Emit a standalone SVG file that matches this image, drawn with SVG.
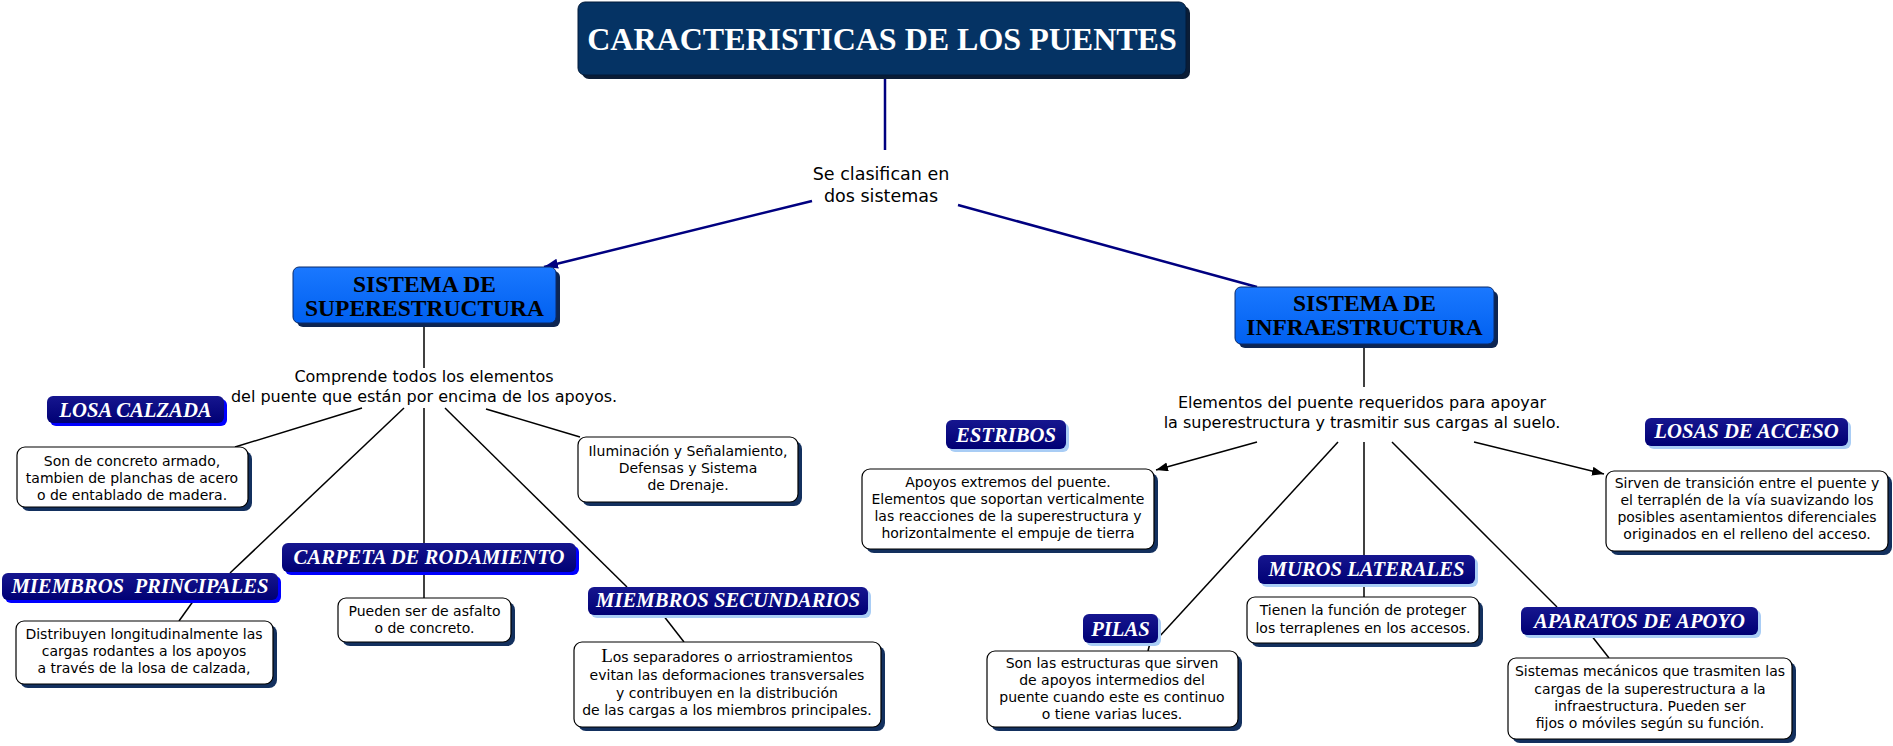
<svg xmlns="http://www.w3.org/2000/svg" width="1893" height="746" viewBox="0 0 1893 746">
<defs>
<linearGradient id="lg" x1="0" y1="0" x2="0" y2="1">
<stop offset="0" stop-color="#16168f"/>
<stop offset="1" stop-color="#000074"/>
</linearGradient>
<linearGradient id="bg" x1="0" y1="0" x2="0" y2="1">
<stop offset="0" stop-color="#1a78ff"/>
<stop offset="1" stop-color="#0060f0"/>
</linearGradient>
<marker id="arN" markerUnits="userSpaceOnUse" markerWidth="16" markerHeight="12" refX="14" refY="5" orient="auto">
<path d="M0,0 L14,5 L0,10 z" fill="#000080"/>
</marker>
<marker id="arB" markerUnits="userSpaceOnUse" markerWidth="14" markerHeight="10" refX="12" refY="4.5" orient="auto">
<path d="M0,0 L12,4.5 L0,9 z" fill="#000"/>
</marker>
</defs>
<style>
text{text-anchor:middle}
.title{font-family:"Liberation Serif","Times New Roman",serif;font-weight:bold;font-size:32px;fill:#fff}
.sys{font-family:"Liberation Serif","Times New Roman",serif;font-weight:bold;font-size:23.5px;fill:#000}
.lbl{font-family:"Liberation Serif","Times New Roman",serif;font-weight:bold;font-style:italic;font-size:20.7px;fill:#fff}
.desc{font-family:"DejaVu Sans",Verdana,sans-serif;font-size:14px;fill:#000}
.mid{font-family:"DejaVu Sans",Verdana,sans-serif;font-size:16px;fill:#000}
.big{font-size:17.5px}
.box{fill:#fff;stroke:#000;stroke-width:1.2}
.boxsh{fill:#13305e}
.lab{fill:url(#lg)}
.shA{fill:#0000ff}
.shB{fill:#a9cdf5}
.sysbox{fill:url(#bg);stroke:#0a2a6a;stroke-width:1}
.syssh{fill:#0d2552}
.conn{stroke:#000;stroke-width:1.5;fill:none}
.nav{stroke:#000080;stroke-width:2.5;fill:none}
</style>

<g id="connectors">
<line class="nav" x1="885" y1="77" x2="885" y2="150"/>
<line class="nav" x1="812" y1="201" x2="544" y2="267" marker-end="url(#arN)"/>
<line class="nav" x1="958" y1="205" x2="1257" y2="287"/>
<line class="conn" x1="424" y1="323" x2="424" y2="368"/>
<line class="conn" x1="362" y1="408" x2="235" y2="447"/>
<line class="conn" x1="404" y1="408" x2="230" y2="573"/>
<line class="conn" x1="424" y1="408" x2="424" y2="543"/>
<line class="conn" x1="445" y1="408" x2="627" y2="587"/>
<line class="conn" x1="486" y1="409" x2="580" y2="437"/>
<line class="conn" x1="194" y1="600" x2="179" y2="621"/>
<line class="conn" x1="424" y1="572" x2="424" y2="598"/>
<line class="conn" x1="663" y1="615" x2="684" y2="642"/>
<line class="conn" x1="1364" y1="344" x2="1364" y2="387"/>
<line class="conn" x1="1257" y1="442" x2="1156" y2="470" marker-end="url(#arB)"/>
<line class="conn" x1="1338" y1="442" x2="1159" y2="637"/>
<line class="conn" x1="1364" y1="442" x2="1364" y2="555"/>
<line class="conn" x1="1392" y1="442" x2="1557" y2="607"/>
<line class="conn" x1="1474" y1="442" x2="1604" y2="474" marker-end="url(#arB)"/>
<line class="conn" x1="1364" y1="584" x2="1364" y2="597"/>
<line class="conn" x1="1150" y1="643" x2="1148" y2="651"/>
<line class="conn" x1="1591" y1="635" x2="1609" y2="658"/>
</g>

<g id="n-title">
<rect x="582" y="6" width="608" height="73" rx="7" fill="#0b1d36"/>
<rect x="578" y="2" width="608" height="73" rx="7" fill="#053364" stroke="#021a38" stroke-width="1"/>
<text class="title" x="882" y="50">CARACTERISTICAS DE LOS PUENTES</text>
</g>

<g id="n-clasifican">
<text class="mid big" x="881" y="180">Se clasifican en</text>
<text class="mid big" x="881" y="202">dos sistemas</text>
</g>

<g id="n-super">
<rect class="syssh" x="297" y="271" width="263" height="56" rx="6"/>
<rect class="sysbox" x="293" y="267" width="263" height="56" rx="6"/>
<text class="sys" x="424.5" y="291.5">SISTEMA DE</text>
<text class="sys" x="424.5" y="315.5">SUPERESTRUCTURA</text>
</g>

<g id="n-infra">
<rect class="syssh" x="1239" y="291" width="259" height="57" rx="6"/>
<rect class="sysbox" x="1235" y="287" width="259" height="57" rx="6"/>
<text class="sys" x="1364.5" y="310.5">SISTEMA DE</text>
<text class="sys" x="1364.5" y="334.5">INFRAESTRUCTURA</text>
</g>

<g id="n-comprende">
<text class="mid" x="424" y="382">Comprende todos los elementos</text>
<text class="mid" x="424" y="402">del puente que están por encima de los apoyos.</text>
</g>

<g id="n-elementos">
<text class="mid" x="1362" y="408">Elementos del puente requeridos para apoyar</text>
<text class="mid" x="1362" y="428">la superestructura y trasmitir sus cargas al suelo.</text>
</g>

<g id="n-losa-calzada">
<rect class="shA" x="50" y="399" width="177" height="27" rx="6"/>
<rect class="lab" x="47" y="396" width="177" height="27" rx="6"/>
<text class="lbl" x="135.5" y="417">LOSA CALZADA</text>
</g>

<g id="n-losa-desc">
<rect class="boxsh" x="21" y="451" width="231" height="60" rx="8"/>
<rect class="box" x="17" y="447" width="231" height="60" rx="8"/>
<text class="desc" x="132" y="466">Son de concreto armado,</text>
<text class="desc" x="132" y="483">tambien de planchas de acero</text>
<text class="desc" x="132" y="500">o de entablado de madera.</text>
</g>

<g id="n-iluminacion">
<rect class="boxsh" x="582" y="441" width="220" height="65" rx="8"/>
<rect class="box" x="578" y="437" width="220" height="65" rx="8"/>
<text class="desc" x="688" y="456">Iluminación y Señalamiento,</text>
<text class="desc" x="688" y="473">Defensas y Sistema</text>
<text class="desc" x="688" y="490">de Drenaje.</text>
</g>

<g id="n-miembros-principales">
<rect class="shA" x="5" y="576" width="276" height="27" rx="6"/>
<rect class="lab" x="2" y="573" width="276" height="27" rx="6"/>
<text class="lbl" x="140" y="593" xml:space="preserve">MIEMBROS  PRINCIPALES</text>
</g>

<g id="n-mp-desc">
<rect class="boxsh" x="20" y="625" width="257" height="63" rx="8"/>
<rect class="box" x="16" y="621" width="257" height="63" rx="8"/>
<text class="desc" x="144" y="639">Distribuyen longitudinalmente las</text>
<text class="desc" x="144" y="656">cargas rodantes a los apoyos</text>
<text class="desc" x="144" y="673">a través de la losa de calzada,</text>
</g>

<g id="n-carpeta">
<rect class="shA" x="285" y="546" width="294" height="29" rx="6"/>
<rect class="lab" x="282" y="543" width="294" height="29" rx="6"/>
<text class="lbl" x="429" y="564">CARPETA DE RODAMIENTO</text>
</g>

<g id="n-carpeta-desc">
<rect class="boxsh" x="342" y="602" width="173" height="44" rx="8"/>
<rect class="box" x="338" y="598" width="173" height="44" rx="8"/>
<text class="desc" x="424.5" y="616">Pueden ser de asfalto</text>
<text class="desc" x="424.5" y="633">o de concreto.</text>
</g>

<g id="n-miembros-secundarios">
<rect class="shB" x="591" y="590" width="280" height="28" rx="6"/>
<rect class="lab" x="588" y="587" width="280" height="28" rx="6"/>
<text class="lbl" x="728" y="607">MIEMBROS SECUNDARIOS</text>
</g>

<g id="n-ms-desc">
<rect class="boxsh" x="578" y="646" width="307" height="85" rx="8"/>
<rect class="box" x="574" y="642" width="307" height="85" rx="8"/>
<text class="desc" x="727" y="662"><tspan style="font-family:'Liberation Serif',serif;font-size:19px">L</tspan>os separadores o arriostramientos</text>
<text class="desc" x="727" y="680">evitan las deformaciones transversales</text>
<text class="desc" x="727" y="698">y contribuyen en la distribución</text>
<text class="desc" x="727" y="715">de las cargas a los miembros principales.</text>
</g>

<g id="n-estribos">
<rect class="shB" x="949" y="423" width="120" height="29" rx="6"/>
<rect class="lab" x="946" y="420" width="120" height="29" rx="6"/>
<text class="lbl" x="1006" y="442">ESTRIBOS</text>
</g>

<g id="n-estribos-desc">
<rect class="boxsh" x="866" y="473" width="292" height="80" rx="8"/>
<rect class="box" x="862" y="469" width="292" height="80" rx="8"/>
<text class="desc" x="1008" y="487">Apoyos extremos del puente.</text>
<text class="desc" x="1008" y="504">Elementos que soportan verticalmente</text>
<text class="desc" x="1008" y="521">las reacciones de la superestructura y</text>
<text class="desc" x="1008" y="538">horizontalmente el empuje de tierra</text>
</g>

<g id="n-losas-acceso">
<rect class="shB" x="1648" y="421" width="203" height="28" rx="6"/>
<rect class="lab" x="1645" y="418" width="203" height="28" rx="6"/>
<text class="lbl" x="1746.5" y="438">LOSAS DE ACCESO</text>
</g>

<g id="n-losas-desc">
<rect class="boxsh" x="1610" y="475" width="282" height="80" rx="8"/>
<rect class="box" x="1606" y="471" width="282" height="80" rx="8"/>
<text class="desc" x="1747" y="488">Sirven de transición entre el puente y</text>
<text class="desc" x="1747" y="505">el terraplén de la vía suavizando los</text>
<text class="desc" x="1747" y="522">posibles asentamientos diferenciales</text>
<text class="desc" x="1747" y="539">originados en el relleno del acceso.</text>
</g>

<g id="n-muros">
<rect class="shB" x="1261" y="558" width="217" height="29" rx="6"/>
<rect class="lab" x="1258" y="555" width="217" height="29" rx="6"/>
<text class="lbl" x="1366.5" y="576">MUROS LATERALES</text>
</g>

<g id="n-muros-desc">
<rect class="boxsh" x="1251" y="601" width="232" height="46" rx="8"/>
<rect class="box" x="1247" y="597" width="232" height="46" rx="8"/>
<text class="desc" x="1363" y="615">Tienen la función de proteger</text>
<text class="desc" x="1363" y="633">los terraplenes en los accesos.</text>
</g>

<g id="n-pilas">
<rect class="shB" x="1086" y="617" width="75" height="29" rx="6"/>
<rect class="lab" x="1083" y="614" width="75" height="29" rx="6"/>
<text class="lbl" x="1120.5" y="636">PILAS</text>
</g>

<g id="n-pilas-desc">
<rect class="boxsh" x="991" y="655" width="251" height="76" rx="8"/>
<rect class="box" x="987" y="651" width="251" height="76" rx="8"/>
<text class="desc" x="1112" y="668">Son las estructuras que sirven</text>
<text class="desc" x="1112" y="685">de apoyos intermedios del</text>
<text class="desc" x="1112" y="702">puente cuando este es continuo</text>
<text class="desc" x="1112" y="719">o tiene varias luces.</text>
</g>

<g id="n-aparatos">
<rect class="shB" x="1524" y="610" width="237" height="28" rx="6"/>
<rect class="lab" x="1521" y="607" width="237" height="28" rx="6"/>
<text class="lbl" x="1639.5" y="628">APARATOS DE APOYO</text>
</g>

<g id="n-aparatos-desc">
<rect class="boxsh" x="1512" y="662" width="284" height="81" rx="8"/>
<rect class="box" x="1508" y="658" width="284" height="81" rx="8"/>
<text class="desc" x="1650" y="676">Sistemas mecánicos que trasmiten las</text>
<text class="desc" x="1650" y="694">cargas de la superestructura a la</text>
<text class="desc" x="1650" y="711">infraestructura. Pueden ser</text>
<text class="desc" x="1650" y="728">fijos o móviles según su función.</text>
</g>
</svg>
